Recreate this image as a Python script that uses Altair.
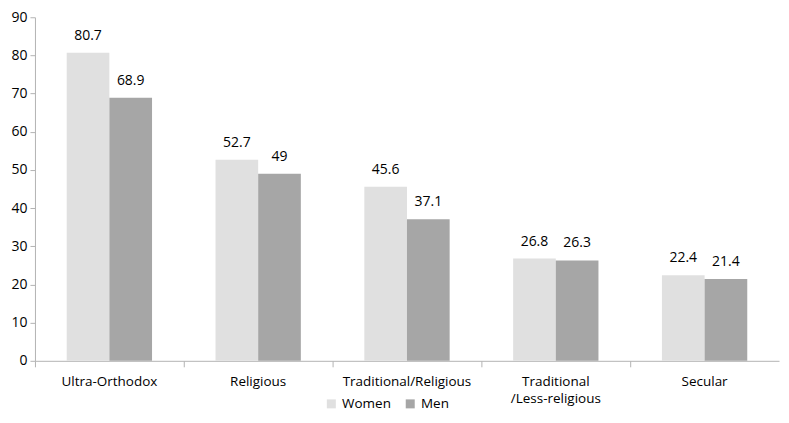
import altair as alt
import pandas as pd

categories = ["Ultra-Orthodox", "Religious", "Traditional/Religious",
              "Traditional /Less-religious", "Secular"]
women = [80.7, 52.7, 45.6, 26.8, 22.4]
men = [68.9, 49, 37.1, 26.3, 21.4]
series = ["Women", "Men"]
colors = ["#e0e0e0", "#a6a6a6"]
y_ticks = [0, 10, 20, 30, 40, 50, 60, 70, 80, 90]

rows = []
for c, w, m in zip(categories, women, men):
    rows.append({"category": c, "gender": "Women", "value": w})
    rows.append({"category": c, "gender": "Men", "value": m})
df = pd.DataFrame(rows)

FONT = "Open Sans"
FS = 13.5
AX = "#b3b3b3"
W = 745
H = 344

x = alt.X(
    "category:N", sort=categories,
    scale=alt.Scale(paddingInner=0, paddingOuter=0),
    axis=alt.Axis(
        title=None, labelAngle=0, bandPosition=0,
        tickSize=6, tickColor=AX, domainColor=AX, labelPadding=8,
        labelFont=FONT, labelFontSize=FS, labelColor="#000",
        labelExpr="split(replace(datum.label, ' /', '~/'), '~')",
        labelLineHeight=17, grid=False,
    ),
)
xoff = alt.XOffset("gender:N", sort=series,
                   scale=alt.Scale(paddingInner=0, paddingOuter=0.744))
y = alt.Y(
    "value:Q", scale=alt.Scale(domain=[0, 90], nice=False),
    axis=alt.Axis(
        title=None, values=y_ticks, grid=False, tickSize=5, tickColor=AX,
        domainColor=AX, labelFont=FONT, labelFontSize=14, labelColor="#000",
        labelPadding=3,
    ),
)
color = alt.Color(
    "gender:N", sort=series,
    scale=alt.Scale(domain=series, range=colors),
    legend=alt.Legend(
        title=None, orient="none", legendX=290, legendY=380,
        direction="horizontal", symbolType="square", symbolSize=81,
        symbolStrokeWidth=0, labelFont=FONT, labelFontSize=FS,
        labelColor="#000", columnPadding=12, labelOffset=4,
    ),
)

bars = alt.Chart(df).mark_bar().encode(x=x, xOffset=xoff, y=y, color=color)
labels = alt.Chart(df).mark_text(
    baseline="bottom", dy=-10, font=FONT, fontSize=14, color="#000"
).encode(x=x, xOffset=xoff, y=y, text=alt.Text("value:Q"))

chart = (bars + labels).properties(
    width=W, height=H,
    autosize=alt.AutoSizeParams(type="none"),
    padding={"left": 27, "top": 9, "right": 2, "bottom": 54},
).configure_view(stroke=None)

chart.save("out.html", embed_options={"renderer": "svg", "actions": False})
